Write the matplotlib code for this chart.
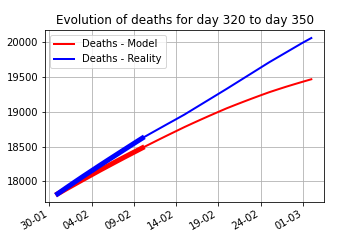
import pandas as pd
import matplotlib
matplotlib.use("Agg")
import matplotlib.pyplot as plt
import matplotlib.dates as mdates

# days 320 -> 350
dates = pd.date_range("2021-01-31", periods=31, freq="D")

deaths_model = [17820, 17890, 17958, 18026, 18093, 18160, 18225, 18290, 18354, 18417,
                18480, 18541, 18602, 18662, 18721, 18780, 18836, 18891, 18945, 18998,
                19050, 19098, 19145, 19191, 19236, 19280, 19320, 19359, 19396, 19432,
                19467]
deaths_reality = [17820, 17905, 17988, 18070, 18150, 18230, 18309, 18387, 18465, 18543,
                  18620, 18689, 18757, 18825, 18892, 18960, 19034, 19108, 19182, 19256,
                  19330, 19406, 19482, 19558, 19634, 19710, 19781, 19852, 19923, 19994,
                  20060]
n_known = 11  # first days drawn thick

fig, ax = plt.subplots(figsize=(5, 3.5), dpi=72)
ax.plot(dates, deaths_model, color="red", linewidth=2, label="Deaths - Model")
ax.plot(dates, deaths_reality, color="blue", linewidth=2, label="Deaths - Reality")
ax.plot(dates[:n_known], deaths_model[:n_known], color="red", linewidth=5)
ax.plot(dates[:n_known], deaths_reality[:n_known], color="blue", linewidth=5)

ax.set_xticks(pd.date_range("2021-01-30", "2021-03-01", freq="5D"))
ax.xaxis.set_major_formatter(mdates.DateFormatter("%d-%m"))
ax.set_title("Evolution of deaths for day 320 to day 350")
ax.legend(loc="upper left")
ax.grid(True)
fig.autofmt_xdate()

plt.savefig("out.png", dpi=72)
